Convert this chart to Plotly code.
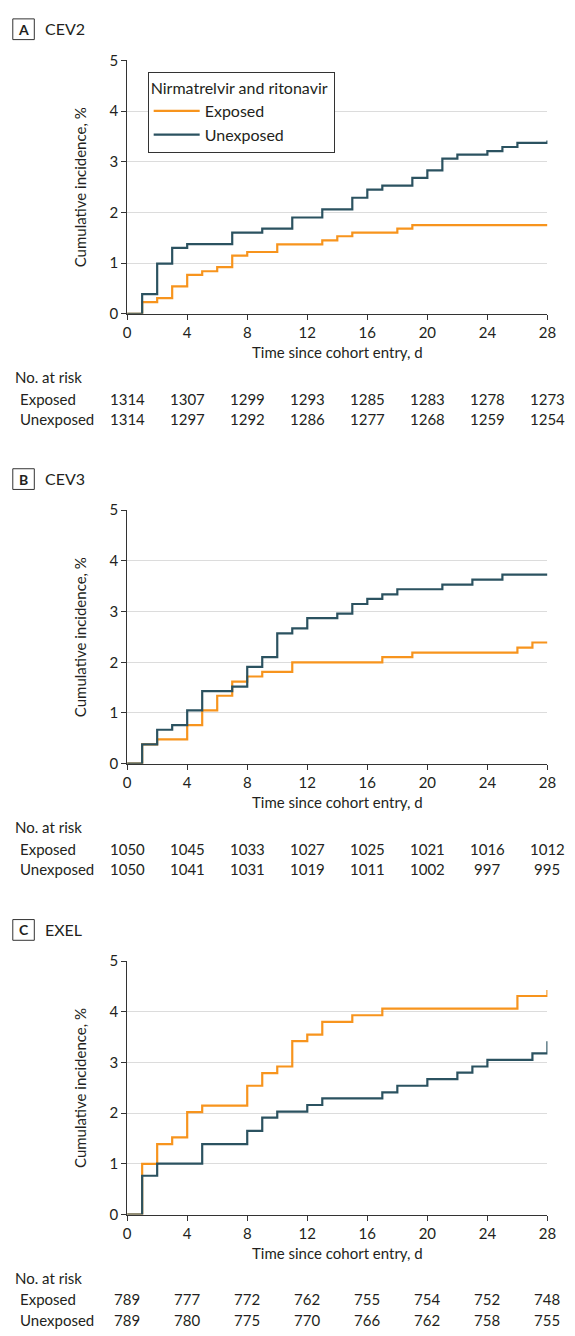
import plotly.graph_objects as go

W, H = 575, 1336
FONT = "Lato"
ORANGE = "#F7941D"
DARK = "#2B5260"

# ---- data ----
panel_letters = ["A", "B", "C"]
panel_names = ["CEV2", "CEV3", "EXEL"]

a_exp_days = [0, 1, 2, 3, 4, 5, 6, 7, 8, 10, 13, 14, 15, 18, 19, 28]
a_exp_vals = [0, 0.23, 0.31, 0.54, 0.77, 0.84, 0.92, 1.15, 1.22, 1.37, 1.45, 1.53, 1.60, 1.68, 1.75, 1.75]
a_unexp_days = [0, 1, 2, 3, 4, 7, 9, 11, 13, 15, 16, 17, 19, 20, 21, 22, 24, 25, 26, 28]
a_unexp_vals = [0, 0.39, 0.99, 1.30, 1.375, 1.60, 1.68, 1.90, 2.06, 2.29, 2.45, 2.53, 2.68, 2.83, 3.06, 3.14, 3.21, 3.29, 3.37, 3.42]

b_exp_days = [0, 1, 2, 4, 5, 6, 7, 8, 9, 11, 17, 19, 26, 27, 28]
b_exp_vals = [0, 0.38, 0.48, 0.76, 1.05, 1.34, 1.62, 1.72, 1.81, 2.00, 2.10, 2.19, 2.29, 2.39, 2.39]
b_unexp_days = [0, 1, 2, 3, 4, 5, 7, 8, 9, 10, 11, 12, 14, 15, 16, 17, 18, 21, 23, 25, 28]
b_unexp_vals = [0, 0.38, 0.67, 0.76, 1.05, 1.43, 1.52, 1.91, 2.10, 2.57, 2.67, 2.87, 2.96, 3.15, 3.25, 3.34, 3.44, 3.53, 3.63, 3.73, 3.73]

c_exp_days = [0, 1, 2, 3, 4, 5, 8, 9, 10, 11, 12, 13, 15, 17, 26, 28]
c_exp_vals = [0, 1.00, 1.39, 1.52, 2.02, 2.15, 2.54, 2.79, 2.92, 3.42, 3.55, 3.80, 3.93, 4.06, 4.31, 4.43]
c_unexp_days = [0, 1, 2, 5, 8, 9, 10, 12, 13, 17, 18, 20, 22, 23, 24, 27, 28]
c_unexp_vals = [0, 0.765, 1.005, 1.39, 1.65, 1.91, 2.03, 2.16, 2.29, 2.41, 2.54, 2.67, 2.80, 2.92, 3.05, 3.18, 3.42]

risk_days = [0, 4, 8, 12, 16, 20, 24, 28]
a_risk_exp = [1314, 1307, 1299, 1293, 1285, 1283, 1278, 1273]
a_risk_unexp = [1314, 1297, 1292, 1286, 1277, 1268, 1259, 1254]
b_risk_exp = [1050, 1045, 1033, 1027, 1025, 1021, 1016, 1012]
b_risk_unexp = [1050, 1041, 1031, 1019, 1011, 1002, 997, 995]
c_risk_exp = [789, 777, 772, 762, 755, 754, 752, 748]
c_risk_unexp = [789, 780, 775, 770, 766, 762, 758, 755]

x_ticks = [0, 4, 8, 12, 16, 20, 24, 28]
y_ticks = [0, 1, 2, 3, 4, 5]

panels = [
    (a_exp_days, a_exp_vals, a_unexp_days, a_unexp_vals, a_risk_exp, a_risk_unexp),
    (b_exp_days, b_exp_vals, b_unexp_days, b_unexp_vals, b_risk_exp, b_risk_unexp),
    (c_exp_days, c_exp_vals, c_unexp_days, c_unexp_vals, c_risk_exp, c_risk_unexp),
]

# ---- layout helpers ----
def px_x(p):
    return p / W

def px_y(p):
    return 1 - p / H

X0, X1 = 126, 556
Y_TOP0, Y_BOT0 = 51, 308
OFFSETS = [0, 456, 913]

fig = go.Figure()
annotations = []
shapes = []
TXT = "#231F20"

def ann(text, x, y, xanchor="center", yanchor="middle", xref="paper", size=15, **kw):
    annotations.append(dict(text=text, x=x, y=y, xref=xref, yref="paper",
                            xanchor=xanchor, yanchor=yanchor, showarrow=False,
                            font=dict(family=FONT, size=size, color=TXT), **kw))

for i, (ed, ev, ud, uv, re, ru) in enumerate(panels):
    off = OFFSETS[i]
    xa = "x" if i == 0 else f"x{i+1}"
    ya = "y" if i == 0 else f"y{i+1}"
    fig.add_trace(go.Scatter(x=ed, y=ev, mode="lines", line=dict(color=ORANGE, width=2.2, shape="hv"),
                             name="Exposed", showlegend=(i == 0), xaxis=xa, yaxis=ya,
                             hoverinfo="skip"))
    fig.add_trace(go.Scatter(x=ud, y=uv, mode="lines", line=dict(color=DARK, width=2.2, shape="hv"),
                             name="Unexposed", showlegend=(i == 0), xaxis=xa, yaxis=ya,
                             hoverinfo="skip"))
    axis_common = dict(showline=True, linecolor="#333333", linewidth=1, ticks="outside",
                       ticklen=5, tickcolor="#333333", tickfont=dict(family=FONT, size=15, color=TXT),
                       zeroline=False)
    fig.update_layout(**{
        ("xaxis" if i == 0 else f"xaxis{i+1}"): dict(
            domain=[px_x(X0), px_x(X1)], range=[0, 28], tickvals=x_ticks,
            anchor=ya, showgrid=False, **axis_common),
        ("yaxis" if i == 0 else f"yaxis{i+1}"): dict(
            domain=[px_y(Y_BOT0 + off), px_y(Y_TOP0 + off)], range=[0, 5], tickvals=y_ticks,
            anchor=xa, showgrid=True, gridcolor="#DCDCDC", gridwidth=1, **axis_common),
    })
    # panel label box
    shapes.append(dict(type="rect", xref="paper", yref="paper",
                       x0=px_x(9), x1=px_x(31), y0=px_y(30 + off), y1=px_y(9 + off),
                       line=dict(color="#333333", width=1)))
    ann(f"<b>{panel_letters[i]}</b>", px_x(20), px_y(19.5 + off), size=14)
    ann(panel_names[i], px_x(40), px_y(19 + off), xanchor="left", size=16)
    # axis titles
    ann("Cumulative incidence, %", px_x(78), px_y((Y_TOP0 + Y_BOT0) / 2 + off), textangle=-90)
    ann("Time since cohort entry, d", px_x((X0 + X1) / 2), px_y(347 + off))
    # risk table
    ann("No. at risk", px_x(9), px_y(372 + off), xanchor="left")
    ann("Exposed", px_x(14), px_y(394 + off), xanchor="left")
    ann("Unexposed", px_x(14), px_y(414.5 + off), xanchor="left")
    for d, v in zip(risk_days, re):
        ann(str(v), d, px_y(394 + off), xref=xa)
    for d, v in zip(risk_days, ru):
        ann(str(v), d, px_y(414.5 + off), xref=xa)

fig.update_layout(
    width=W, height=H,
    margin=dict(l=0, r=0, t=0, b=0),
    paper_bgcolor="white", plot_bgcolor="white",
    font=dict(family=FONT, size=15, color=TXT),
    showlegend=True,
    legend=dict(x=px_x(147), y=px_y(63), xanchor="left", yanchor="top",
                bordercolor="#333333", borderwidth=1, bgcolor="white",
                title=dict(text="Nirmatrelvir and ritonavir ", font=dict(family=FONT, size=16, color=TXT)),
                font=dict(family=FONT, size=16, color=TXT), tracegroupgap=0, itemwidth=46),
    annotations=annotations,
    shapes=shapes,
)

fig.write_html("out.html", config={"displayModeBar": False},
               post_script="document.body.style.margin='0';document.body.style.overflow='hidden';")
